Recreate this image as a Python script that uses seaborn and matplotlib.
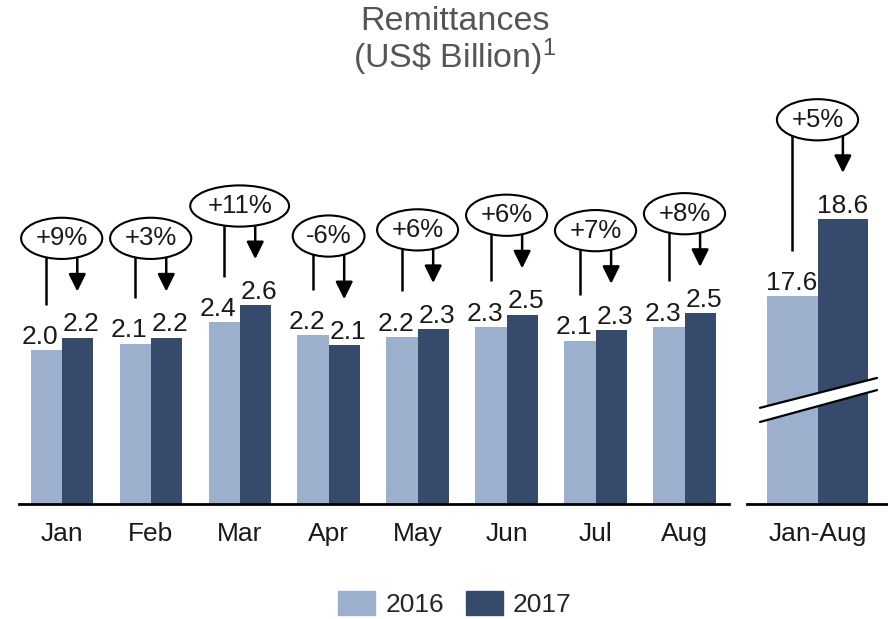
import numpy as np
import pandas as pd
import matplotlib
matplotlib.use('Agg')
import matplotlib.pyplot as plt
import matplotlib.patches as mpatches
import seaborn as sns

# values
months = ['Jan', 'Feb', 'Mar', 'Apr', 'May', 'Jun', 'Jul', 'Aug']
v2016 = [2.00, 2.08, 2.36, 2.19, 2.17, 2.30, 2.12, 2.30]
v2017 = [2.16, 2.16, 2.58, 2.06, 2.27, 2.46, 2.26, 2.48]
growth = ['+9%', '+3%', '+11%', '-6%', '+6%', '+6%', '+7%', '+8%']

total_label = 'Jan-Aug'
total2016 = [17.6]
total2017 = [18.6]
total_growth = ['+5%']

years = ['2016', '2017']
colors = {'2016': '#9cafcc', '2017': '#364b6c'}

sns.set_style('white')
plt.rcParams['font.family'] = ['Liberation Sans', 'DejaVu Sans']
plt.rcParams['mathtext.default'] = 'regular'

W, H = 888, 619
fig = plt.figure(figsize=(W / 100, H / 100), dpi=100)

base_px = 504      # baseline, pixels from top
top_px = 100
px_per_unit = 77.0
span = (base_px - top_px) / px_per_unit


def frac(x0, x1):
    return [x0 / W, 1 - base_px / H, (x1 - x0) / W, (base_px - top_px) / H]


ax = fig.add_axes(frac(19, 729))
ax2 = fig.add_axes(frac(747, 888))

df = pd.DataFrame({
    'month': months * 2,
    'value': v2016 + v2017,
    'year': ['2016'] * len(months) + ['2017'] * len(months),
})
df_tot = pd.DataFrame({
    'month': [total_label] * 2,
    'value': total2016 + total2017,
    'year': years,
})

sns.barplot(data=df, x='month', y='value', hue='year', hue_order=years,
            palette=colors, width=0.7, saturation=1, linewidth=0,
            errorbar=None, legend=False, ax=ax)
sns.barplot(data=df_tot, x='month', y='value', hue='year', hue_order=years,
            palette=colors, width=0.72, saturation=1, linewidth=0,
            errorbar=None, legend=False, ax=ax2)

ax.set_xlim(-0.48, 7.5)
ax.set_ylim(0, span)
off = 14.9
ax2.set_xlim(-0.5, 0.5)
ax2.set_ylim(off, off + span)

for a in (ax, ax2):
    a.set_xlabel('')
    a.set_ylabel('')
    a.set_yticks([])
    for s in ['top', 'left', 'right']:
        a.spines[s].set_visible(False)
    a.spines['bottom'].set_color('black')
    a.spines['bottom'].set_linewidth(2)
    a.tick_params(axis='x', length=0, pad=13, labelsize=19, labelcolor='#1a1a1a')

# value labels; monthly ones nudged apart so neighbours don't collide
shifts = [-4.5, 3.0]
for c, dx in zip(ax.containers, shifts):
    for t in ax.bar_label(c, fmt='%.1f', padding=1, fontsize=19, color='#1a1a1a'):
        t.xyann = (dx, 1)
for c in ax2.containers:
    ax2.bar_label(c, fmt='%.1f', padding=1, fontsize=19, color='#1a1a1a')


def annotate_pairs(a, c16, c17, labels):
    for b16, b17, lab in zip(c16, c17, labels):
        x0 = b16.get_x() + b16.get_width() / 2
        x1 = b17.get_x() + b17.get_width() / 2
        h16 = b16.get_y() + b16.get_height()
        h17 = b17.get_y() + b17.get_height()
        yc = max(h16, h17) + 1.29
        a.plot([x0, x0], [h16 + 0.59, yc], color='black', lw=1.8,
               zorder=3, clip_on=False, solid_capstyle='butt')
        a.annotate('', xy=(x1, h17 + 0.6), xytext=(x1, yc),
                   arrowprops=dict(arrowstyle='-|>,head_length=1.05,head_width=0.52',
                                   color='black', lw=1.8, shrinkA=0, shrinkB=0,
                                   mutation_scale=10),
                   zorder=3, annotation_clip=False)
        cx = (b16.get_x() + b17.get_x() + b17.get_width()) / 2
        a.text(cx, yc, lab, ha='center', va='center', fontsize=18.5,
               color='#1a1a1a', zorder=5, clip_on=False,
               bbox=dict(boxstyle='ellipse,pad=0.1', fc='white',
                         ec='black', lw=1.5))


annotate_pairs(ax, ax.containers[0], ax.containers[1], growth)
annotate_pairs(ax2, ax2.containers[0], ax2.containers[1], total_growth)

# axis break mark on the total bars
up = [(0.092, 0.238), (0.922, 0.312)]
lo = [(0.092, 0.203), (0.922, 0.282)]
band = mpatches.Polygon([up[0], up[1], lo[1], lo[0]], closed=True,
                        transform=ax2.transAxes, fc='white', ec='none', zorder=4)
ax2.add_patch(band)
for ln in (up, lo):
    ax2.plot([ln[0][0], ln[1][0]], [ln[0][1], ln[1][1]], color='black', lw=1.6,
             transform=ax2.transAxes, zorder=4)

# title
fig.text(455 / W, 1 - 21 / H, 'Remittances', ha='center', va='center',
         fontsize=24.5, color='#555555')
fig.text(455 / W, 1 - 57 / H, r'(US\$ Billion)$^{1}$', ha='center', va='center',
         fontsize=24.5, color='#555555')

handles = [mpatches.Patch(color=colors[y], label=y) for y in years]
fig.legend(handles=handles, loc='center', bbox_to_anchor=(455 / W, 1 - 604 / H),
           ncol=2, frameon=False, fontsize=19, handlelength=1.4,
           handleheight=1.06, handletextpad=0.38, columnspacing=0.83)

fig.savefig('out.png', dpi=100)
